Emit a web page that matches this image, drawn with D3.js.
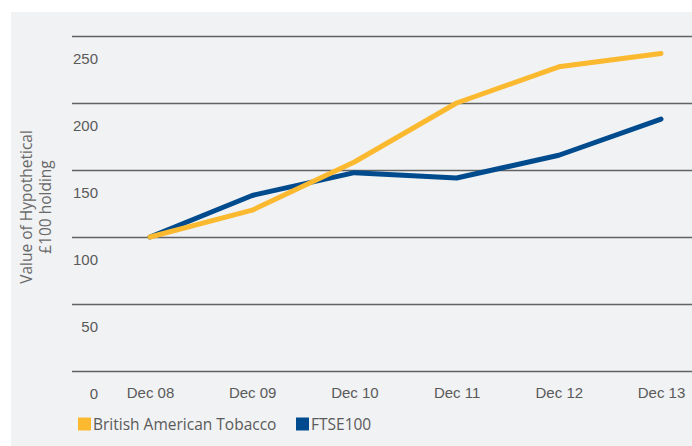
<!DOCTYPE html>
<html>
<head>
<meta charset="utf-8">
<script src="https://cdn.jsdelivr.net/npm/d3@7"></script>
<style>
  body { margin: 0; background: #fff; }
  svg { display: block; font-family: "Open Sans", sans-serif; }
</style>
</head>
<body>
<svg id="chart" width="692" height="446"></svg>
<script>
// years along the bottom
const years = ["Dec 08", "Dec 09", "Dec 10", "Dec 11", "Dec 12", "Dec 13"];
// value of a hypothetical £100 holding
const batValues = [100, 120, 156, 200, 227, 237];
const ftseValues = [100, 131, 148, 144, 161, 188];
const yTicks = [0, 50, 100, 150, 200, 250];
const seriesNames = ["British American Tobacco", "FTSE100"];
const seriesColors = ["#fbb930", "#004b8d"];

const svg = d3.select("#chart");

// grey panel
svg.append("rect")
    .attr("x", 11).attr("y", 12)
    .attr("width", 681).attr("height", 434)
    .attr("fill", "#f1f2f4");

const x = d3.scalePoint().domain(years).range([150, 661]);
const y = d3.scaleLinear().domain([0, 250]).range([371, 36]);

// gridlines + value labels (labels sit under their line)
const yAxis = svg.append("g")
    .attr("transform", "translate(72,0)")
    .call(d3.axisRight(y).tickValues(yTicks).tickSize(620).tickFormat(d3.format("d")));
yAxis.select(".domain").remove();
yAxis.selectAll(".tick line")
    .attr("stroke", "#626262")
    .attr("stroke-width", 1.3);
yAxis.selectAll(".tick text")
    .attr("x", 26).attr("dy", 0).attr("y", 27)
    .attr("text-anchor", "end")
    .attr("fill", "#5a5a5a")
    .style("font-size", "15px");

// year labels
const xAxis = svg.append("g")
    .attr("transform", "translate(0,371)")
    .call(d3.axisBottom(x).tickSize(0));
xAxis.select(".domain").remove();
xAxis.selectAll(".tick text")
    .attr("y", 27).attr("dy", 0)
    .attr("fill", "#5a5a5a")
    .style("font-size", "15px");

// y title
svg.append("text")
    .attr("transform", "translate(32,207) rotate(-90)")
    .attr("text-anchor", "middle")
    .attr("fill", "#6a6a6a")
    .style("font-size", "15.5px")
    .selectAll("tspan")
    .data(["Value of Hypothetical", "£100 holding"])
    .join("tspan")
    .attr("x", 0)
    .attr("dy", (d, i) => i === 0 ? 0 : 19)
    .text(d => d);

// lines
const line = d3.line()
    .x((d, i) => x(years[i]))
    .y(d => y(d));

[ftseValues, batValues].forEach((vals, k) => {
  svg.append("path")
      .datum(vals)
      .attr("d", line)
      .attr("fill", "none")
      .attr("stroke", k === 0 ? seriesColors[1] : seriesColors[0])
      .attr("stroke-width", 5)
      .attr("stroke-linejoin", "round")
      .attr("stroke-linecap", "round");
});

// legend
const legendX = [78, 296];
const legend = svg.append("g");
seriesNames.forEach((name, i) => {
  legend.append("rect")
      .attr("x", legendX[i]).attr("y", 417.5)
      .attr("width", 13).attr("height", 13)
      .attr("fill", seriesColors[i]);
  legend.append("text")
      .attr("x", legendX[i] + 15).attr("y", 430)
      .attr("fill", "#5a5a5a")
      .style("font-size", "15.5px")
      .text(name);
});
</script>
</body>
</html>
